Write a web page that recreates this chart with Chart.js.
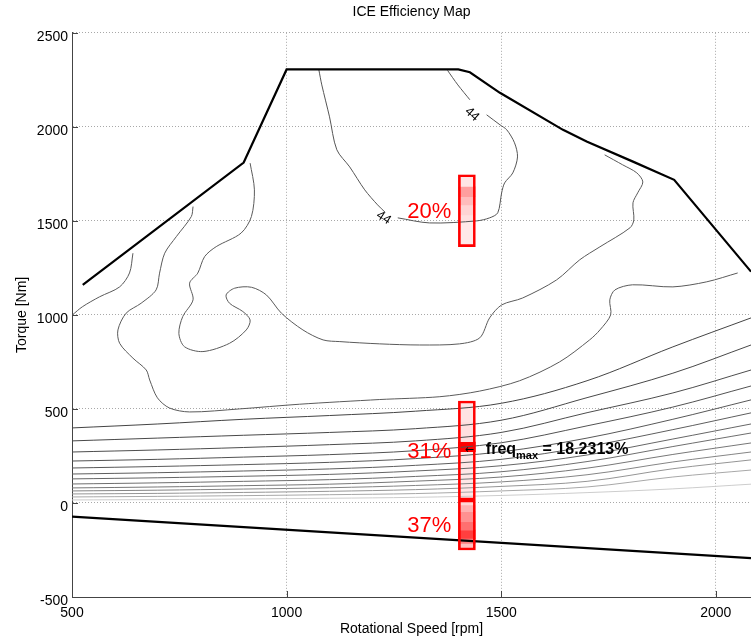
<!DOCTYPE html>
<html>
<head>
<meta charset="utf-8">
<script src="https://cdn.jsdelivr.net/npm/chart.js@4"></script>
<style>
  html, body { margin: 0; padding: 0; background: #fff; }
</style>
</head>
<body>
<canvas id="map" width="751" height="638"></canvas>
<script>
const FONT = '"Liberation Sans", Arial, Helvetica, sans-serif';

// axes
const xTicks = [500, 1000, 1500, 2000];
const yTicks = [-500, 0, 500, 1000, 1500, 2000, 2500];
const xRange = [500, 2082];
const yRange = [-500, 2500];

// engine limits [rpm, Nm]
const maxTorque = [[525, 1160], [900, 1810], [1000, 2305], [1400, 2305], [1427, 2290], [1497, 2181],
  [1644, 1984], [1699, 1922], [1807, 1815], [1903, 1718], [2082, 1230]];
const minTorque = [[500, -73], [2082, -293]];

// efficiency contours [rpm, Nm], null = gap for the label
const contour44 = [[1075, 2305], [1082, 2223], [1100, 2053], [1117, 1878], [1147, 1787], [1182, 1665],
  [1212, 1585], [1230, 1545], null, [1259, 1516], [1333, 1489], [1443, 1500], [1473, 1516], [1492, 1543],
  [1501, 1649], [1508, 1702], [1527, 1755], [1538, 1840], [1531, 1915], [1513, 1984], [1497, 2011],
  [1466, 2064], null, [1427, 2144], [1399, 2223], [1375, 2300]];
const contourB = [[915, 1807], [925, 1665], [918, 1523], [894, 1435], [836, 1363], [809, 1310], [793, 1222],
  [774, 1169], [782, 1080], [758, 991], [749, 902], [762, 831], [805, 805], [867, 849], [906, 920],
  [915, 973], [898, 1018], [867, 1062], [859, 1106], [879, 1142], [918, 1147], [953, 1106], [988, 1009],
  [1038, 920], [1085, 867], [1124, 858], [1217, 846], [1310, 840], [1403, 846], [1450, 878], [1473, 984],
  [1501, 1053], [1550, 1090], [1629, 1186], [1683, 1293], [1730, 1362], [1800, 1463], [1809, 1505],
  [1807, 1596], [1818, 1649], [1830, 1707], [1816, 1755], [1783, 1798], [1741, 1851]];
const contourC = [[782, 1576], [778, 1523], [743, 1416], [716, 1328], [704, 1222], [696, 1133], [661, 1062],
  [626, 1009], [607, 920], [611, 849], [642, 770], [673, 707], [681, 654], [699, 559], [727, 505],
  [774, 484], [890, 500], [1030, 525], [1217, 550], [1357, 565], [1450, 595], [1543, 650], [1636, 750],
  [1706, 867], [1730, 920], [1755, 1000], [1753, 1080], [1765, 1133], [1806, 1160], [1900, 1149],
  [1979, 1176], [2051, 1223]];
const contourF = [[642, 1328], [634, 1223], [611, 1149], [564, 1096], [524, 1043], [501, 1000]];

// low-load contours, values at bandRpm
const bandRpm = [500, 700, 900, 1100, 1300, 1500, 1700, 1900, 2082];
const band1 = [399, 420, 445, 465, 488, 530, 650, 830, 984];
const band2 = [330, 345, 360, 375, 395, 440, 560, 690, 840];
const band3 = [271, 282, 295, 310, 330, 375, 480, 585, 707];
const band4 = [223, 232, 244, 257, 278, 320, 410, 510, 622];
const band5 = [186, 194, 204, 216, 236, 272, 345, 445, 548];
const band6 = [154, 161, 170, 181, 200, 232, 300, 390, 479];
const band7 = [128, 134, 142, 152, 170, 198, 255, 340, 420];
const band8 = [101, 107, 115, 124, 141, 166, 220, 300, 372];
const band9 = [80, 85, 92, 100, 116, 138, 185, 258, 319];
const band10 = [64, 68, 74, 81, 93, 112, 150, 218, 271];
const band11 = [48, 51, 56, 62, 71, 88, 115, 182, 229];
const band12 = [32, 35, 39, 44, 50, 64, 85, 138, 175];
const band13 = [16, 18, 21, 25, 30, 40, 55, 75, 100];
const bands = [band1, band2, band3, band4, band5, band6, band7, band8, band9, band10, band11, band12, band13];
const bandGray = ['#444', '#484848', '#4d4d4d', '#525252', '#585858', '#5e5e5e', '#666', '#6e6e6e',
  '#777', '#858585', '#959595', '#a8a8a8', '#cdcdcd'];

const contourLabels = [
  { text: '44', rpm: 1226, nm: 1516, angle: 33 },
  { text: '44', rpm: 1432, nm: 2066, angle: 42 }
];

// operating point histogram (torque bins, frequency %)
const barRpm = 1420;
const bar1Edges = [1363, 1497, 1532, 1585, 1629, 1683, 1745];
const bar1Freq = [1.6, 2.2, 3.1, 4.8, 6.9, 1.9];
const bar2Edges = [16, 273, 326, 432, 542];
const bar2Freq = [1.7, 18.2313, 2.3, 1.9];
const bar3Edges = [-250, -215, -188, -144, -100, -46, -11, 16];
const bar3Freq = [4.6, 9.1, 13.7, 10.2, 7.9, 5.6, 3.0];
const barShares = ['20%', '31%', '37%'];
const freqMax = 18.2313;

const toXY = arr => arr.map(p => p ? { x: p[0], y: p[1] } : { x: NaN, y: NaN });
const shade = f => {
  const g = Math.round(255 * (1 - f / freqMax));
  return `rgb(255,${g},${g})`;
};

function lineSet(points, color, width, tension) {
  return {
    type: 'scatter', data: toXY(points), showLine: true, spanGaps: false,
    borderColor: color, borderWidth: width, pointRadius: 0, tension: tension, fill: false, order: 2
  };
}

function cellSet(edges, freq) {
  return {
    type: 'bar',
    data: freq.map((f, i) => ({ x: barRpm, y: [edges[i], edges[i + 1]] })),
    backgroundColor: freq.map(shade),
    borderWidth: 0, barThickness: 17, grouped: false, order: 4
  };
}

function frameSet(edges) {
  return {
    type: 'bar',
    data: [{ x: barRpm, y: [edges[0], edges[edges.length - 1]] }],
    backgroundColor: 'rgba(0,0,0,0)', borderColor: '#ff0000', borderWidth: 2,
    borderSkipped: false, barThickness: 17, grouped: false, order: 1
  };
}

const datasets = [
  lineSet(maxTorque, '#000', 2.2, 0),
  lineSet(minTorque, '#000', 2.2, 0),
  lineSet(contour44, '#555', 1, 0.3),
  lineSet(contourB, '#5a5a5a', 1, 0.3),
  lineSet(contourC, '#5a5a5a', 1, 0.3),
  lineSet(contourF, '#5a5a5a', 1, 0.3),
  ...bands.map((b, i) => lineSet(b.map((v, j) => [bandRpm[j], v]), bandGray[i], 1, 0.35)),
  cellSet(bar1Edges, bar1Freq),
  cellSet(bar2Edges, bar2Freq),
  cellSet(bar3Edges, bar3Freq),
  frameSet(bar1Edges),
  frameSet(bar2Edges),
  frameSet(bar3Edges)
];

const overlay = {
  id: 'overlay',
  afterDatasetsDraw(chart) {
    const { ctx, chartArea: a } = chart;
    const x = chart.scales.x, y = chart.scales.y;
    ctx.save();

    // inward tick marks
    ctx.strokeStyle = '#444';
    ctx.lineWidth = 1;
    xTicks.forEach(v => {
      const px = Math.round(x.getPixelForValue(v)) + 0.5;
      ctx.beginPath(); ctx.moveTo(px, a.bottom); ctx.lineTo(px, a.bottom - 6); ctx.stroke();
    });
    yTicks.forEach(v => {
      const py = Math.round(y.getPixelForValue(v)) + 0.5;
      ctx.beginPath(); ctx.moveTo(a.left, py); ctx.lineTo(a.left + 6, py); ctx.stroke();
    });

    // contour labels
    ctx.fillStyle = '#000';
    ctx.font = '13px ' + FONT;
    ctx.textAlign = 'center';
    ctx.textBaseline = 'middle';
    contourLabels.forEach(l => {
      ctx.save();
      ctx.translate(x.getPixelForValue(l.rpm), y.getPixelForValue(l.nm));
      ctx.rotate(l.angle * Math.PI / 180);
      ctx.fillText(l.text, 0, 0);
      ctx.restore();
    });

    // share labels left of each bar
    const left = x.getPixelForValue(barRpm) - 8.5;
    ctx.fillStyle = '#ff0000';
    ctx.font = '22px ' + FONT;
    ctx.textAlign = 'right';
    [bar1Edges, bar2Edges, bar3Edges].forEach((e, i) => {
      const mid = (y.getPixelForValue(e[0]) + y.getPixelForValue(e[e.length - 1])) / 2;
      ctx.fillText(barShares[i], left - 7, mid + 1);
    });

    // freq max annotation
    const k = bar2Freq.indexOf(freqMax);
    const fy = (y.getPixelForValue(bar2Edges[k]) + y.getPixelForValue(bar2Edges[k + 1])) / 2 + 3;
    let fx = x.getPixelForValue(barRpm);
    ctx.fillStyle = '#000';
    ctx.textAlign = 'left';
    ctx.font = '11px "DejaVu Sans", sans-serif';
    ctx.fillText('\u2190', fx - 2, fy);
    fx += 19;
    ctx.font = 'bold 16px ' + FONT;
    ctx.fillText('freq', fx, fy);
    fx += ctx.measureText('freq').width;
    ctx.font = 'bold 11px ' + FONT;
    ctx.fillText('max', fx, fy + 6);
    fx += ctx.measureText('max').width;
    ctx.font = 'bold 16px ' + FONT;
    ctx.fillText(' = ' + freqMax + '%', fx, fy);
    ctx.restore();
  }
};

new Chart(document.getElementById('map'), {
  type: 'scatter',
  data: { datasets: datasets },
  options: {
    responsive: false,
    animation: false,
    layout: { padding: 0 },
    plugins: {
      legend: { display: false },
      tooltip: { enabled: false },
      title: {
        display: true, text: 'ICE Efficiency Map', fullSize: false, color: '#000',
        font: { family: FONT, size: 14, weight: 'normal' }, padding: { top: 4, bottom: 12 }
      }
    },
    scales: {
      x: {
        type: 'linear', min: xRange[0], max: xRange[1], offset: false,
        afterBuildTicks: s => { s.ticks = xTicks.map(v => ({ value: v })); },
        afterFit: s => { s.height = 41; },
        grid: { color: '#a8a8a8', drawTicks: false, offset: false },
        border: { color: '#444', width: 1, dash: [1, 2] },
        ticks: {
          color: '#000', font: { family: FONT, size: 14 }, padding: 8, maxRotation: 0, autoSkip: false,
          callback: v => String(v)
        },
        title: { display: true, text: 'Rotational Speed [rpm]', color: '#000', font: { family: FONT, size: 14 }, padding: 0 }
      },
      y: {
        type: 'linear', min: yRange[0], max: yRange[1],
        afterBuildTicks: s => { s.ticks = yTicks.map(v => ({ value: v })); },
        afterFit: s => { s.width = 72; },
        grid: { color: '#a8a8a8', drawTicks: false },
        border: { color: '#444', width: 1, dash: [1, 2] },
        ticks: {
          color: '#000', font: { family: FONT, size: 14 }, padding: 4, labelOffset: 4, autoSkip: false,
          callback: v => String(v)
        },
        title: { display: true, text: 'Torque [Nm]', color: '#000', font: { family: FONT, size: 14 }, padding: { top: 14, bottom: 0 } }
      }
    }
  },
  plugins: [overlay]
});
</script>
</body>
</html>
